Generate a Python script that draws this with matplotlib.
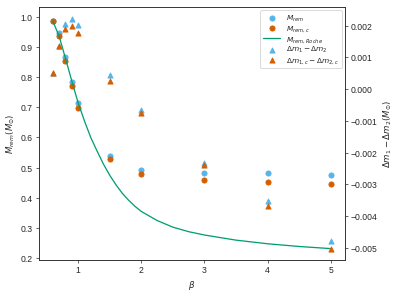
import matplotlib
matplotlib.use("Agg")
import matplotlib.pyplot as plt
import seaborn as sns
import numpy as np

sns.set_style("ticks")
plt.rcParams['font.family'] = ['Liberation Sans', 'DejaVu Sans']

beta = [0.6, 0.7, 0.8, 0.9, 1.0, 1.5, 2.0, 3.0, 4.0, 5.0]
m_rem = [0.985, 0.944, 0.866, 0.784, 0.715, 0.540, 0.493, 0.483, 0.481, 0.477]
m_rem_c = [0.985, 0.937, 0.853, 0.769, 0.698, 0.527, 0.478, 0.458, 0.454, 0.445]
dm = [0.00050, 0.00136, 0.00206, 0.00221, 0.00203, 0.00043, -0.00066, -0.00233, -0.00352, -0.00480]
dm_c = [0.00050, 0.00136, 0.00189, 0.00199, 0.00177, 0.00025, -0.00077, -0.00239, -0.00368, -0.00505]

beta_roche = [0.6, 0.7, 0.8, 0.9, 1.0, 1.1, 1.2, 1.3, 1.4, 1.5, 1.6, 1.7, 1.8, 1.9,
              2.0, 2.25, 2.5, 2.75, 3.0, 3.5, 4.0, 4.5, 5.0]
m_roche = [0.985, 0.935, 0.862, 0.787, 0.715, 0.655, 0.600, 0.555, 0.512, 0.475,
           0.443, 0.415, 0.392, 0.372, 0.355, 0.325, 0.303, 0.288, 0.277, 0.260,
           0.248, 0.239, 0.232]

c_blue = '#56B4E9'
c_orange = '#D55E00'
c_green = '#029E73'

fig = plt.figure(figsize=(6.4, 4.8), dpi=62)
ax = fig.add_subplot(111)
fig.subplots_adjust(left=0.098, right=0.869, top=0.973, bottom=0.125)

h1 = ax.scatter(beta, m_rem, color=c_blue, s=36, label=r'$M_{rem}$')
h2 = ax.scatter(beta, m_rem_c, color=c_orange, s=36, label=r'$M_{rem,c}$')
h3, = ax.plot(beta_roche, m_roche, color=c_green, lw=1.5, label=r'$M_{rem,Roche}$')
ax.set_ylim(0.195, 1.03)
ax.set_yticks(np.arange(0.2, 1.01, 0.1))
ax.set_xticks([1, 2, 3, 4, 5])
ax.set_xlabel(r'$\beta$')
ax.set_ylabel(r'$M_{rem}(M_{\odot})$')

ax2 = ax.twinx()
h4 = ax2.scatter(beta, dm, color=c_blue, marker='^', s=36, label=r'$\Delta m_1-\Delta m_2$')
h5 = ax2.scatter(beta, dm_c, color=c_orange, marker='^', s=36, label=r'$\Delta m_{1,c}-\Delta m_{2,c}$')
ax2.set_ylim(-0.00538, 0.00257)
ax2.set_yticks([0.002, 0.001, 0.0, -0.001, -0.002, -0.003, -0.004, -0.005])
ax2.set_yticklabels(['0.002', '0.001', '0.000', '\u22120.001', '\u22120.002', '\u22120.003', '\u22120.004', '\u22120.005'])
ax2.set_ylabel(r'$\Delta m_1-\Delta m_2(M_{\odot})$')

ax2.legend(handles=[h1, h2, h3, h4, h5], loc='upper right', fontsize=8.5,
           labelspacing=0.05, borderaxespad=0.4, handlelength=2.3)

fig.savefig('out.png', dpi=62)
